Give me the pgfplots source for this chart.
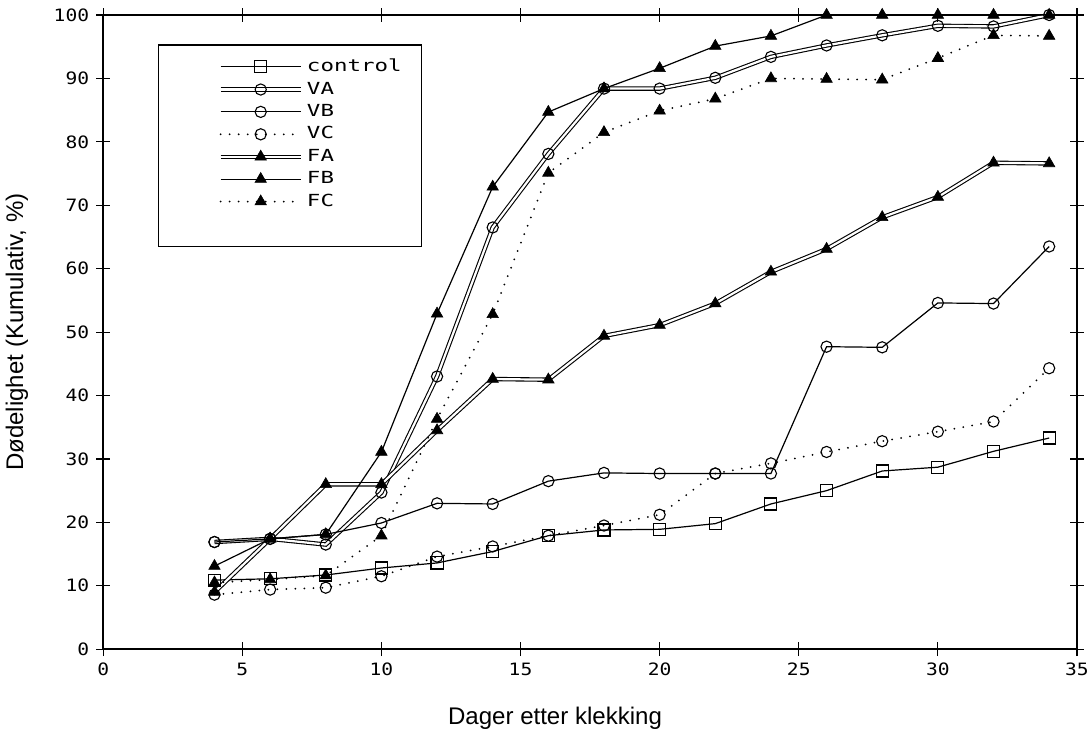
\documentclass[border=0pt]{standalone}
\usepackage{fontspec}
\setmainfont{Liberation Sans}
\newfontfamily\tickfont[FakeStretch=1.15]{DejaVu Sans Mono}
\newfontfamily\legfont[FakeStretch=1.35]{DejaVu Sans Mono}
\usepackage{pgfplots}
\pgfplotsset{compat=1.18}
\usetikzlibrary{calc}

\pgfplotsset{
  thinline/.style={black, line width=0.6pt},
  dblline/.style={black, line width=0.55pt, double=white, double distance=1.1pt},
  dotline/.style={black, line width=1pt, line cap=round, dash pattern=on 0pt off 4.5pt},
  circ/.style={mark=o, mark size=2.8pt, mark options={solid, black, line width=0.55pt, fill=none}},
  sq/.style={mark=square, mark size=3pt, mark options={solid, black, line width=0.55pt, fill=none}},
  tri/.style={mark=triangle*, mark size=3.3pt, mark options={solid, black, line width=0.3pt, fill=black}},
}

\begin{document}
\begin{tikzpicture}
\begin{axis}[
    name=ax,
    scale only axis,
    width=486pt, height=316.5pt,
    xmin=0, xmax=35, ymin=0, ymax=100,
    xtick={0,5,...,35}, ytick={0,10,...,100},
    tick align=center,
    major tick length=7pt,
    tick style={black, line width=0.6pt},
    axis line style={line width=0.8pt},
    ticklabel style={font=\tickfont\fontsize{8.5}{10}\selectfont},
    /pgf/number format/assume math mode=true,
    xlabel={Dager etter klekking},
    ylabel={Dødelighet (Kumulativ, \%)},
    label style={font=\fontsize{12}{14}\selectfont},
    xlabel style={at={(axis description cs:0.464,-0.109)}, anchor=center},
    ylabel style={at={(axis description cs:-0.0885,0.5)}, anchor=center},
    legend cell align=left,
    legend image code/.code={
        \path[draw=none, fill=none] (-23pt,-1pt) rectangle (-22pt,1pt);
        \draw[#1, mark repeat=2, mark phase=2] plot coordinates {(0pt,0pt) (20pt,0pt) (40pt,0pt)};
    },
    legend style={
        at={(0.056,0.954)}, anchor=north west,
        draw=black, line width=0.8pt,
        font=\legfont\fontsize{8.3}{10}\selectfont,
        inner xsep=8pt, inner ysep=5pt, row sep=-0.4pt,
    },
]
% control
\addplot[thinline, sq] coordinates {
 (4,10.9) (6,11.1) (8,11.7) (10,12.8) (12,13.6) (14,15.4) (16,17.9) (18,18.8)
 (20,18.9) (22,19.8) (24,22.9) (26,25.0) (28,28.1) (30,28.7) (32,31.2) (34,33.3)
};
\addlegendentry{control}
% VA
\addplot[dblline, circ] coordinates {
 (4,16.9) (6,17.4) (8,16.5) (10,24.7) (12,43.0) (14,66.5) (16,78.1) (18,88.4)
 (20,88.4) (22,90.1) (24,93.4) (26,95.2) (28,96.8) (30,98.3) (32,98.2) (34,100)
};
\addlegendentry{VA}
% VB
\addplot[thinline, circ] coordinates {
 (4,16.9) (6,17.4) (8,18.1) (10,19.9) (12,23.0) (14,22.9) (16,26.5) (18,27.8)
 (20,27.7) (22,27.7) (24,27.7) (26,47.7) (28,47.6) (30,54.6) (32,54.5) (34,63.5)
};
\addlegendentry{VB}
% VC
\addplot[dotline, circ] coordinates {
 (4,8.6) (6,9.4) (8,9.7) (10,11.5) (12,14.6) (14,16.2) (16,17.9) (18,19.5)
 (20,21.2) (22,27.7) (24,29.3) (26,31.1) (28,32.8) (30,34.3) (32,35.9) (34,44.3)
};
\addlegendentry{VC}
% FA
\addplot[dblline, tri] coordinates {
 (4,9.0) (6,17.4) (8,26.0) (10,26.0) (12,34.5) (14,42.6) (16,42.5) (18,49.4)
 (20,51.1) (22,54.5) (24,59.5) (26,63.1) (28,68.1) (30,71.3) (32,76.7) (34,76.6)
};
\addlegendentry{FA}
% FB
\addplot[thinline, tri] coordinates {
 (4,13.1) (6,17.4) (8,18.1) (10,31.1) (12,52.9) (14,72.9) (16,84.7) (18,88.4)
 (20,91.6) (22,95.1) (24,96.7) (26,100) (28,100) (30,100) (32,100) (34,100)
};
\addlegendentry{FB}
% FC
\addplot[dotline, tri] coordinates {
 (4,10.5) (6,11.0) (8,11.6) (10,17.9) (12,36.3) (14,52.8) (16,75.1) (18,81.5)
 (20,84.9) (22,86.8) (24,90.0) (26,89.9) (28,89.8) (30,93.2) (32,96.8) (34,96.7)
};
\addlegendentry{FC}
% blank row: the legend box has extra room at the bottom
\addlegendimage{empty legend}
\addlegendentry{\rule{0pt}{6.5pt}}
\end{axis}
\pgfresetboundingbox
\path ($(ax.south west)+(-51.5pt,-40pt)$) rectangle ($(ax.north east)+(6pt,7.5pt)$);
\end{tikzpicture}
\end{document}
